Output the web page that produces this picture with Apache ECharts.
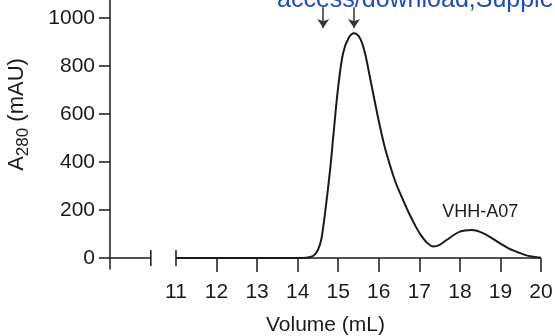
<!DOCTYPE html>
<html>
<head>
<meta charset="utf-8">
<script src="https://cdn.jsdelivr.net/npm/echarts@6/dist/echarts.min.js"></script>
<style>
  html, body { margin: 0; padding: 0; background: #fff; }
  #main { width: 555px; height: 336px; }
</style>
</head>
<body>
<div id="main"></div>
<script>
// elution profile, volume (mL) vs A280 (mAU)
var volume = [11, 14.0, 14.2, 14.32, 14.42, 14.5, 14.58, 14.67, 14.8, 14.88, 15.0, 15.12, 15.25, 15.39, 15.54, 15.66, 15.78, 15.91, 16.03, 16.15, 16.28, 16.4, 16.52, 16.65, 16.77, 16.9, 17.02, 17.2, 17.35, 17.5, 17.67, 18.0, 18.29, 18.58, 18.99, 19.2, 19.4, 19.6, 19.81, 20];
var absorb = [0, 0, 1, 4, 14, 34, 75, 180, 367, 510, 714, 853, 915, 936, 915, 853, 755, 645, 547, 460, 385, 322, 272, 222, 178, 135, 100, 62, 48, 55, 75, 110, 117, 103, 61, 40, 26, 13, 5, 1];

var xTicks = [12, 13, 14, 15, 16, 17, 18, 19, 20];
var xLabels = [11, 12, 13, 14, 15, 16, 17, 18, 19, 20];
var yTicks = [0, 200, 400, 600, 800, 1000];

var xStart = 9.373, breakStart = 10.38, breakEnd = 11, xEnd = 20;
var yMin = -45.8, yMax = 1075;

var arrowX = [14.63, 15.39];
var arrowTop = 1045, arrowTip = 958;
var peakName = 'VHH-A07', peakLabelAt = [18.5, 193];

var ink = '#1a1a1a';
var font = 'Liberation Sans, Arial, Helvetica, sans-serif';

var curve = volume.map(function (v, i) { return [v, absorb[i]]; });

var option = {
  animation: false,
  grid: { left: 110, right: 14, top: 0, bottom: 67, outerBoundsMode: 'none', containLabel: false },
  graphic: [{
    type: 'text', x: 277, y: 0,
    style: { text: 'access/download,Supplementary', fontSize: 25, fontFamily: font, fill: '#1f4db5', verticalAlign: 'middle' }
  }],
  xAxis: {
    type: 'value', min: xStart, max: xEnd,
    name: 'Volume (mL)', nameLocation: 'middle', nameGap: 46,
    nameTextStyle: { fontSize: 21, fontFamily: font, color: ink },
    splitLine: { show: false },
    axisLine: { show: true, onZero: true, lineStyle: { color: 'rgba(0,0,0,0)' } },
    axisTick: { customValues: xTicks, length: 14, lineStyle: { color: ink, width: 1.5 } },
    axisLabel: { customValues: xLabels, margin: 13, fontSize: 21, fontFamily: font, color: ink }
  },
  yAxis: {
    type: 'value', min: yMin, max: yMax,
    name: '{a|A}{s|280}{a| (mAU)}', nameLocation: 'middle', nameGap: 78, nameRotate: 90,
    nameTextStyle: {
      padding: [0, 0, 0, 40],
      rich: {
        a: { fontSize: 22, fontFamily: font, color: ink, lineHeight: 30, verticalAlign: 'middle' },
        s: { fontSize: 17, fontFamily: font, color: ink, lineHeight: 30, verticalAlign: 'bottom' }
      }
    },
    splitLine: { show: false },
    axisLine: { show: true, onZero: false, lineStyle: { color: ink, width: 1.5 } },
    axisTick: { customValues: yTicks, length: 11, lineStyle: { color: ink, width: 1.5 } },
    axisLabel: {
      customValues: yTicks, margin: 15, fontSize: 21, fontFamily: font, color: ink,
      formatter: function (v) { return String(v); }
    }
  },
  series: [
    {
      name: 'axis-left', type: 'line', silent: true,
      data: [{ value: [xStart, 0], symbol: 'none' }, [breakStart, 0]],
      symbol: 'rect', symbolSize: [1.5, 16], showSymbol: true,
      itemStyle: { color: ink }, lineStyle: { color: ink, width: 1.5 }
    },
    {
      name: 'axis-right', type: 'line', silent: true,
      data: [[breakEnd, 0], { value: [xEnd, 0], symbol: 'none' }],
      symbol: 'rect', symbolSize: [1.5, 16], showSymbol: true,
      itemStyle: { color: ink }, lineStyle: { color: ink, width: 1.5 }
    },
    {
      name: 'A280', type: 'line', data: curve, smooth: 0.35,
      symbol: 'none', lineStyle: { color: ink, width: 2 },
      markLine: {
        silent: true, symbol: ['none', 'arrow'], symbolSize: 9,
        label: { show: false },
        lineStyle: { color: '#333', width: 1.5, type: 'solid' },
        data: arrowX.map(function (x) {
          return [{ coord: [x, arrowTop] }, { coord: [x, arrowTip] }];
        })
      },
      markPoint: {
        silent: true, symbol: 'circle', symbolSize: 0,
        label: { show: true, position: 'inside', formatter: peakName, fontSize: 18, fontFamily: font, color: ink },
        data: [{ coord: peakLabelAt }]
      }
    }
  ]
};

var chart = echarts.init(document.getElementById('main'));
chart.setOption(option);
</script>
</body>
</html>
